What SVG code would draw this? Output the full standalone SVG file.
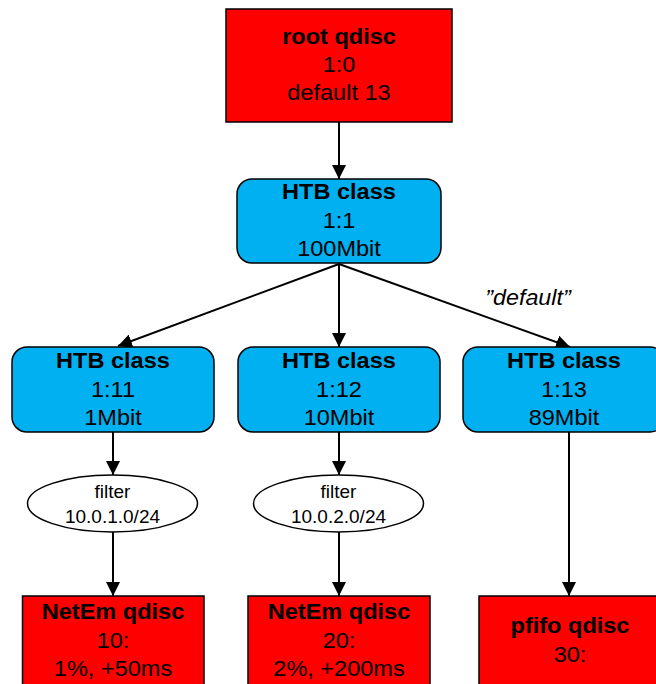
<svg xmlns="http://www.w3.org/2000/svg" width="656" height="684" viewBox="0 0 656 684">
  <defs>
    <marker id="arrow" viewBox="0 0 14 14" refX="14" refY="7" markerWidth="14" markerHeight="14" markerUnits="userSpaceOnUse" orient="auto">
      <path d="M0,0 L14,7 L0,14 Z" fill="#000"/>
    </marker>
    <style>
      .qdisc { fill: #FF0000; stroke: #000; stroke-width: 1.5; }
      .htb { fill: #00B0F0; stroke: #000; stroke-width: 1.5; }
      .filter { fill: #FFFFFF; stroke: #000; stroke-width: 1.5; }
      .edge { stroke: #000; stroke-width: 2; fill: none; marker-end: url(#arrow); }
      text { font-family: "Liberation Sans", Arial, sans-serif; text-anchor: middle; fill: #000; }
      .t { font-size: 22px; }
      .b { font-size: 22px; font-weight: bold; }
      .s { font-size: 19px; }
      .i { font-size: 22px; font-style: italic; }
    </style>
  </defs>

  <!-- connectors -->
  <g id="connectors">
    <line class="edge" x1="339" y1="122" x2="339" y2="179"/>
    <line class="edge" x1="339" y1="264" x2="118" y2="346"/>
    <line class="edge" x1="339" y1="264" x2="339" y2="347"/>
    <line class="edge" x1="339" y1="264" x2="570" y2="347"/>
    <line class="edge" x1="113" y1="432" x2="113" y2="475"/>
    <line class="edge" x1="339" y1="432" x2="339" y2="475"/>
    <line class="edge" x1="113" y1="532" x2="113" y2="596"/>
    <line class="edge" x1="339" y1="532" x2="339" y2="596"/>
    <line class="edge" x1="569" y1="432" x2="569" y2="596"/>
    <g transform="translate(528 0) scale(1.06 1)">
      <text class="i" x="0" y="305">”default”</text>
    </g>
  </g>

  <!-- root qdisc -->
  <g id="root-qdisc">
    <rect class="qdisc" x="226" y="9" width="226" height="113"/>
    <g transform="translate(339 0) scale(1.07 1)">
      <text class="b" x="0" y="44">root qdisc</text>
      <text class="t" x="0" y="72">1:0</text>
      <text class="t" x="0" y="100">default 13</text>
    </g>
  </g>

  <!-- HTB class 1:1 -->
  <g id="htb-1-1">
    <rect class="htb" x="237" y="179" width="204" height="84" rx="15"/>
    <g transform="translate(339 0) scale(1.07 1)">
      <text class="b" x="0" y="199">HTB class</text>
      <text class="t" x="0" y="228">1:1</text>
      <text class="t" x="0" y="256">100Mbit</text>
    </g>
  </g>

  <!-- HTB class 1:11 -->
  <g id="htb-1-11">
    <rect class="htb" x="12" y="347" width="202" height="85" rx="15"/>
    <g transform="translate(113 0) scale(1.07 1)">
      <text class="b" x="0" y="368">HTB class</text>
      <text class="t" x="0" y="397">1:11</text>
      <text class="t" x="0" y="425">1Mbit</text>
    </g>
  </g>

  <!-- HTB class 1:12 -->
  <g id="htb-1-12">
    <rect class="htb" x="238" y="347" width="202" height="85" rx="15"/>
    <g transform="translate(339 0) scale(1.07 1)">
      <text class="b" x="0" y="368">HTB class</text>
      <text class="t" x="0" y="397">1:12</text>
      <text class="t" x="0" y="425">10Mbit</text>
    </g>
  </g>

  <!-- HTB class 1:13 -->
  <g id="htb-1-13">
    <rect class="htb" x="463" y="347" width="202" height="85" rx="15"/>
    <g transform="translate(564 0) scale(1.07 1)">
      <text class="b" x="0" y="368">HTB class</text>
      <text class="t" x="0" y="397">1:13</text>
      <text class="t" x="0" y="425">89Mbit</text>
    </g>
  </g>

  <!-- filter 10.0.1.0/24 -->
  <g id="filter-1">
    <ellipse class="filter" cx="112.5" cy="503.5" rx="85" ry="28.5"/>
    <text class="s" x="112.5" y="498">filter</text>
    <text class="s" x="112.5" y="523">10.0.1.0/24</text>
  </g>

  <!-- filter 10.0.2.0/24 -->
  <g id="filter-2">
    <ellipse class="filter" cx="338.5" cy="503.5" rx="85" ry="28.5"/>
    <text class="s" x="338.5" y="498">filter</text>
    <text class="s" x="338.5" y="523">10.0.2.0/24</text>
  </g>

  <!-- NetEm qdisc 10: -->
  <g id="netem-10">
    <rect class="qdisc" x="22.5" y="596" width="181.5" height="100"/>
    <g transform="translate(113 0) scale(1.07 1)">
      <text class="b" x="0" y="619">NetEm qdisc</text>
      <text class="t" x="0" y="648">10:</text>
      <text class="t" x="0" y="676">1%, +50ms</text>
    </g>
  </g>

  <!-- NetEm qdisc 20: -->
  <g id="netem-20">
    <rect class="qdisc" x="248" y="596" width="182" height="100"/>
    <g transform="translate(339 0) scale(1.07 1)">
      <text class="b" x="0" y="619">NetEm qdisc</text>
      <text class="t" x="0" y="648">20:</text>
      <text class="t" x="0" y="676">2%, +200ms</text>
    </g>
  </g>

  <!-- pfifo qdisc 30: -->
  <g id="pfifo-30">
    <rect class="qdisc" x="479" y="596" width="182" height="100"/>
    <g transform="translate(570 0) scale(1.07 1)">
      <text class="b" x="0" y="633">pfifo qdisc</text>
      <text class="t" x="0" y="662">30:</text>
    </g>
  </g>
</svg>
